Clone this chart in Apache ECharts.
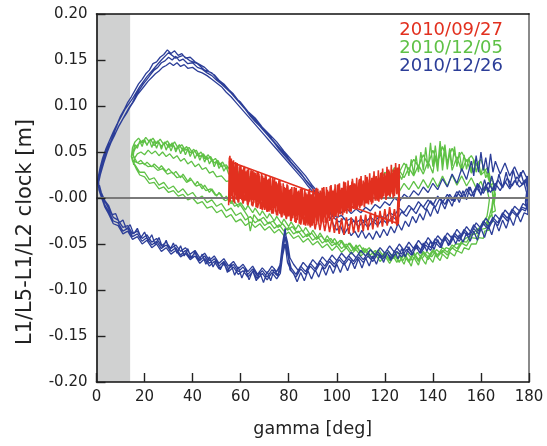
<!DOCTYPE html>
<html>
<head>
<meta charset="utf-8">
<script src="https://cdn.jsdelivr.net/npm/echarts@6/dist/echarts.min.js"></script>
<style>html,body{margin:0;padding:0;background:#fff}#c{width:547px;height:446px}</style>
</head>
<body>
<div id="c"></div>
<script>
// ---- axis / tick definitions ----
const xTickLabels = ['0','20','40','60','80','100','120','140','160','180'];
const yTickLabels = ['-0.20','-0.15','-0.10','-0.05','-0.00','0.05','0.10','0.15','0.20'];
const shadeRange = [0, 14];
const zeroLevel = 0;
const seriesNames = ['2010/09/27', '2010/12/05', '2010/12/26'];

// ---- 2010/12/26 (blue) passes ----
const blue1 = [[1.0,0.018],[2,0.030],[3,0.040],[4.5,0.050],[6,0.060],[7.5,0.068],[9,0.077],[10.5,0.084],[12,0.091],[13.5,0.098],[15,0.104],[16.5,0.112],[18,0.118],[19.5,0.124],[21,0.129],[22.5,0.134],[24,0.139],[25.5,0.142],[27,0.147],[28.5,0.149],[30,0.153],[31.5,0.150],[33,0.154],[34.5,0.149],[36,0.151],[38,0.146],[40,0.147],[42,0.142],[44,0.140],[46,0.136],[48,0.133],[50,0.128],[52,0.124],[54,0.119],[56,0.114],[58,0.108],[60,0.102],[62,0.096],[64,0.089],[66,0.083],[68,0.078],[70,0.072],[72,0.066],[74,0.060],[76,0.053],[78,0.047],[80,0.041],[82,0.035],[84,0.029],[86,0.023],[88,0.016],[90,0.010],[92,0.003],[94,-0.004],
[96,-0.012],[98,-0.017],[100,-0.021],[102,-0.019],[104,-0.025],[106,-0.022],[108,-0.027],[110,-0.023],[112,-0.026],[114,-0.021],[116,-0.025],[118,-0.019],[120,-0.022],[122,-0.016],[124,-0.019],[126,-0.011],[128,-0.016],[130,-0.008],[132,-0.013],[134,-0.004],[136,-0.010],[138,-0.002],[140,-0.008],[142,0.002],[144,-0.005],[146,0.004],[148,-0.003],[150,0.007],[152,0.000],[154,0.010],[156,0.002],[158,0.012],[160,0.004],[162,0.014],[164,0.006],[166,0.016],[168,0.008],[170,0.018],[172,0.010],[174,0.019],[176,0.012],[178,0.016],[179,0.006],
[178.5,-0.004],[179,-0.012],
[177,-0.010],[175,-0.018],[173,-0.012],[171,-0.022],[169,-0.016],[167,-0.027],[165,-0.021],[163,-0.031],[161,-0.025],[159,-0.036],[157,-0.029],[155,-0.040],[153,-0.034],[151,-0.044],[149,-0.038],[147,-0.048],[145,-0.041],[143,-0.051],[141,-0.044],[139,-0.054],[137,-0.047],[135,-0.057],[133,-0.050],[131,-0.059],[129,-0.052],[127,-0.061],[125,-0.054],[123,-0.063],[121,-0.056],[119,-0.064],[117,-0.058],[115,-0.066],[113,-0.060],[111,-0.067],[109,-0.061],[107,-0.069],[105,-0.063],[103,-0.070],[101,-0.064],[99,-0.072],[97,-0.066],[95,-0.074],[93,-0.068],[91,-0.077],[89,-0.071],[87,-0.080],[85,-0.074],[83,-0.083],[81,-0.076],[79.5,-0.060],[78.5,-0.042],[77.5,-0.058],[76.5,-0.079],[75,-0.084],[73,-0.078],[71,-0.086],[69,-0.079],[67,-0.085],[65,-0.077],[63,-0.083],[61,-0.075],[59,-0.080],[57,-0.072],[55,-0.077],[53,-0.069],[51,-0.074],[49,-0.066],[47,-0.071],[45,-0.063],[43,-0.068],[41,-0.060],[39,-0.065],[37,-0.057],[35,-0.062],[33,-0.054],[31,-0.058],[29,-0.051],[27,-0.055],[25,-0.047],[23,-0.051],[21,-0.043],[19,-0.047],[17,-0.039],[15,-0.042],[13,-0.033],[11,-0.036],[9,-0.027],[7,-0.025],[5,-0.014],[3.5,-0.008],[2,0.003],[1,0.010],[0.5,0.016]];

const blue2 = [[0.5,0.020],[1.5,0.033],[2.5,0.043],[4,0.054],[5.5,0.063],[7,0.072],[8.5,0.080],[10,0.089],[11.5,0.096],[13,0.104],[14.5,0.110],[16,0.117],[17.5,0.124],[19,0.129],[20.5,0.135],[22,0.139],[23.5,0.146],[25,0.148],[26.5,0.153],[28,0.156],[29.5,0.161],[31,0.157],[32.5,0.160],[34,0.155],[35.5,0.157],[37,0.152],[39,0.153],[41,0.148],[43,0.145],[45,0.142],[47,0.137],[49,0.134],[51,0.128],[53,0.124],[55,0.118],[57,0.113],[59,0.106],[61,0.100],[63,0.094],[65,0.088],[67,0.082],[69,0.076],[71,0.071],[73,0.064],[75,0.058],[77,0.052],[79,0.046],[81,0.039],[83,0.033],[85,0.027],[87,0.020],[89,0.014],[91,0.007],[93,0.001],[95,-0.007],
[97,-0.016],[99,-0.022],[101,-0.026],[103,-0.022],[105,-0.030],[107,-0.025],[109,-0.031],[111,-0.026],[113,-0.032],[115,-0.025],[117,-0.030],[119,-0.023],[121,-0.028],[123,-0.020],[125,-0.024],[127,-0.015],[129,-0.020],[131,-0.011],[133,-0.017],[135,-0.007],[137,-0.013],[139,-0.003],[141,-0.010],[143,0.000],[145,-0.007],[147,0.004],[149,-0.004],[151,0.008],[153,-0.001],[155,0.012],[157,0.003],[159,0.015],[161,0.005],[163,0.017],[165,0.008],[167,0.020],[169,0.011],[171,0.022],[173,0.013],[175,0.023],[177,0.015],[178.5,0.020],[179.5,0.008],[179,-0.002],[179.5,-0.010],
[177.5,-0.006],[176,-0.014],[174,-0.009],[172,-0.019],[170,-0.013],[168,-0.024],[166,-0.018],[164,-0.029],[162,-0.022],[160,-0.033],[158,-0.027],[156,-0.038],[154,-0.031],[152,-0.041],[150,-0.034],[148,-0.044],[146,-0.038],[144,-0.047],[142,-0.041],[140,-0.050],[138,-0.043],[136,-0.053],[134,-0.046],[132,-0.055],[130,-0.048],[128,-0.057],[126,-0.050],[124,-0.059],[122,-0.052],[120,-0.060],[118,-0.054],[116,-0.062],[114,-0.056],[112,-0.063],[110,-0.057],[108,-0.065],[106,-0.059],[104,-0.066],[102,-0.060],[100,-0.068],[98,-0.062],[96,-0.070],[94,-0.064],[92,-0.073],[90,-0.067],[88,-0.076],[86,-0.070],[84,-0.079],[82,-0.072],[80.5,-0.065],[79.5,-0.048],[78.5,-0.037],[77.5,-0.052],[76.5,-0.072],[75,-0.080],[73,-0.074],[71,-0.082],[69,-0.076],[67,-0.083],[65,-0.074],[63,-0.080],[61,-0.072],[59,-0.077],[57,-0.069],[55,-0.074],[53,-0.066],[51,-0.071],[49,-0.063],[47,-0.068],[45,-0.060],[43,-0.065],[41,-0.057],[39,-0.061],[37,-0.054],[35,-0.058],[33,-0.051],[31,-0.055],[29,-0.048],[27,-0.052],[25,-0.044],[23,-0.048],[21,-0.040],[19,-0.044],[17,-0.036],[15,-0.039],[13,-0.030],[11,-0.032],[9,-0.024],[7,-0.021],[5,-0.011],[3.5,-0.004],[2,0.006],[1,0.013]];

const blue3 = [[0.8,0.022],[2,0.035],[3.5,0.047],[5,0.057],[6.5,0.064],[8,0.071],[9.5,0.079],[11,0.086],[12.5,0.092],[14,0.099],[15.5,0.105],[17,0.112],[18.5,0.117],[20,0.122],[21.5,0.127],[23,0.131],[24.5,0.135],[26,0.138],[27.5,0.142],[29,0.144],[30.5,0.147],[32,0.144],[33.5,0.147],[35,0.143],[36.5,0.145],[38,0.141],[40,0.142],[42,0.138],[44,0.136],[46,0.133],[48,0.129],[50,0.125],[52,0.121],[54,0.115],[56,0.110],[58,0.104],[60,0.098],[62,0.092],[64,0.086],[66,0.080],[68,0.074],[70,0.068],[72,0.062],[74,0.056],[76,0.050],[78,0.044],[80,0.038],[82,0.032],[84,0.026],[86,0.020],[88,0.013],[90,0.007],[92,0.001],[94,-0.005],
[96,-0.009],[98,-0.013],[100,-0.010],[102,-0.016],[104,-0.011],[106,-0.017],[108,-0.012],[110,-0.016],[112,-0.010],[114,-0.014],[116,-0.007],[118,-0.011],[120,-0.004],[122,-0.008],[124,0.000],[126,-0.004],[128,0.004],[130,0.000],[132,0.008],[134,0.003],[136,0.012],[138,0.006],[140,0.016],[142,0.009],[144,0.021],[146,0.012],[148,0.026],[150,0.016],[152,0.032],[154,0.020],[156,0.040],[157,0.024],[158,0.046],[159,0.028],[160,0.050],[161,0.030],[162,0.044],[163,0.027],[164,0.048],[165,0.028],[166,0.040],[168,0.026],[170,0.038],[172,0.024],[174,0.034],[176,0.022],[177.5,0.030],[179,0.022],[179.5,0.010],[179,0.000],[179.5,-0.008],[178.5,-0.014],
[177,-0.012],[175,-0.020],[173,-0.015],[171,-0.025],[169,-0.019],[167,-0.030],[165,-0.024],[163,-0.034],[161,-0.028],[159,-0.039],[157,-0.033],[155,-0.043],[153,-0.037],[151,-0.047],[149,-0.041],[147,-0.051],[145,-0.045],[143,-0.054],[141,-0.048],[139,-0.057],[137,-0.051],[135,-0.060],[133,-0.054],[131,-0.062],[129,-0.056],[127,-0.064],[125,-0.058],[123,-0.066],[121,-0.060],[119,-0.067],[117,-0.061],[115,-0.069],[113,-0.063],[111,-0.070],[109,-0.064],[107,-0.072],[105,-0.066],[103,-0.073],[101,-0.067],[99,-0.075],[97,-0.069],[95,-0.077],[93,-0.071],[91,-0.080],[89,-0.074],[87,-0.083],[85,-0.077],[83,-0.086],[81,-0.079],[79.5,-0.070],[78.5,-0.050],[77.5,-0.062],[76.5,-0.082],[75,-0.088],[73,-0.081],[71,-0.089],[69,-0.082],[67,-0.088],[65,-0.080],[63,-0.086],[61,-0.079],[59,-0.083],[57,-0.075],[55,-0.080],[53,-0.072],[51,-0.077],[49,-0.069],[47,-0.074],[45,-0.066],[43,-0.071],[41,-0.063],[39,-0.067],[37,-0.060],[35,-0.064],[33,-0.057],[31,-0.061],[29,-0.054],[27,-0.058],[25,-0.050],[23,-0.054],[21,-0.046],[19,-0.050],[17,-0.042],[15,-0.045],[13,-0.036],[11,-0.039],[9,-0.030],[7,-0.028],[5,-0.017],[3.5,-0.010],[2,0.001],[1,0.009],[0.8,0.018]];

const blue4 = [[1.2,0.016],[3,0.038],[6,0.062],[9,0.082],[12,0.097],[15,0.108],[18,0.121],[21,0.132],[24,0.141],[27,0.150],[30,0.158],[33,0.152],[36,0.155],[39,0.149],[42,0.146],[45,0.139],[48,0.136],[51,0.127],[54,0.121],[57,0.111],[60,0.104],[63,0.094],[66,0.087],[69,0.077],[72,0.069],[75,0.061],[78,0.051],[81,0.042],[84,0.033],[87,0.024],[90,0.013],[93,0.004],[95,-0.006],
[97,-0.020],[98.5,-0.028],[100,-0.035],[101.5,-0.030],[103,-0.040],[104.5,-0.033],[106,-0.041],[107.5,-0.036],[109,-0.043],[110.5,-0.035],[112,-0.044],[113.5,-0.038],[115,-0.045],[116.5,-0.036],[118,-0.043],[119.5,-0.034],[121,-0.041],[122.5,-0.031],[124,-0.038],[125.5,-0.028],[127,-0.035],[128.5,-0.025],[130,-0.031],[131.5,-0.020],[133,-0.027],[134.5,-0.017],[136,-0.024],[137.5,-0.012],[139,-0.020],[140.5,-0.009],[142,-0.017],[143.5,-0.004],[145,-0.012],[146.5,-0.001],[148,-0.009],[149.5,0.004],[151,-0.005],[152.5,0.008],[154,-0.002],[155.5,0.012],[157,0.001],[158.5,0.016],[160,0.003],[161.5,0.020],[163,0.006],[164.5,0.024],[166,0.008],[167.5,0.026],[169,0.011],[170.5,0.028],[172,0.012],[173.5,0.030],[175,0.014],[176.5,0.028],[178,0.015],[179.3,0.024],[179.6,0.004],[179.2,-0.006],[179.6,-0.018],
[178,-0.016],[176.5,-0.026],[175,-0.017],[173.5,-0.030],[172,-0.021],[170.5,-0.033],[169,-0.024],[167.5,-0.036],[166,-0.026],[164.5,-0.040],[163,-0.030],[161.5,-0.043],[160,-0.033],[158.5,-0.046],[157,-0.036],[155.5,-0.047],[154,-0.038],[152.5,-0.048],[151,-0.040],[149.5,-0.050],[148,-0.041],[146.5,-0.052],[145,-0.043],[143.5,-0.054],[142,-0.045],[140.5,-0.056],[139,-0.047],[137.5,-0.058],[136,-0.049],[134.5,-0.060],[133,-0.051],[131.5,-0.062],[130,-0.053],[128.5,-0.064],[127,-0.055],[125.5,-0.066],[124,-0.057],[122.5,-0.068],[121,-0.059],[119.5,-0.070],[118,-0.061],[116.5,-0.072],[115,-0.063],[113.5,-0.074],[112,-0.065],[110.5,-0.076],[109,-0.066],[107.5,-0.077],[106,-0.068],[104.5,-0.079],[103,-0.070],[101.5,-0.081],[100,-0.072],[98.5,-0.082],[97,-0.073],[95.5,-0.084],[94,-0.075],[92.5,-0.086],[91,-0.078],[89.5,-0.088],[88,-0.079],[86.5,-0.090],[85,-0.081],[83.5,-0.091],[82,-0.082],[80.5,-0.078],[79.5,-0.056],[78.5,-0.033],[77.5,-0.048],[76.5,-0.070],[75.5,-0.085],[74,-0.077],[72.5,-0.090],[71,-0.080],[69.5,-0.092],[68,-0.081],[66.5,-0.090],[65,-0.079],[63.5,-0.089],[62,-0.077],[60.5,-0.087],[59,-0.075],[57.5,-0.084],[56,-0.072],[54.5,-0.081],[53,-0.070],[51.5,-0.078],[50,-0.067],[48.5,-0.075],[47,-0.064],[45.5,-0.072],[44,-0.061],[42.5,-0.069],[41,-0.058],[39.5,-0.066],[38,-0.055],[36.5,-0.063],[35,-0.052],[33.5,-0.060],[32,-0.049],[30.5,-0.057],[29,-0.046],[27.5,-0.054],[26,-0.043],[24.5,-0.051],[23,-0.040],[21.5,-0.047],[20,-0.037],[18.5,-0.043],[17,-0.033],[15.5,-0.039],[14,-0.029],[12.5,-0.034],[11,-0.024],[9.5,-0.027],[8,-0.017],[6.5,-0.018],[5,-0.008],[3.5,-0.003],[2,0.006],[1.2,0.014]];

// ---- 2010/12/05 (green) passes ----
const green1 = [[15,0.040],[15.5,0.050],[16.5,0.056],[18,0.060],[19.5,0.063],[21,0.058],[22.5,0.064],[24,0.057],[25.5,0.062],[27,0.056],[28.5,0.061],[30,0.055],[31.5,0.060],[33,0.053],[34.5,0.058],[36,0.051],[37.5,0.056],[39,0.049],[40.5,0.053],[42,0.046],[43.5,0.050],[45,0.043],[46.5,0.047],[48,0.040],[49.5,0.043],[51,0.036],[52.5,0.039],[54,0.032],[56,0.034],[58,0.027],[60,0.029],[62,0.022],[64,0.023],[66,0.016],[68,0.017],[70,0.010],[72,0.011],[74,0.004],[76,0.005],[78,-0.002],[80,-0.001],[82,-0.007],[84,-0.006],[86,-0.011],[88,-0.009],[90,-0.014],[92,-0.010],[94,-0.013],[96,-0.007],[98,-0.009],[100,-0.002],[102,-0.004],[104,0.004],[106,0.002],[108,0.010],[110,0.008],[112,0.016],[114,0.013],[116,0.022],[118,0.018],[120,0.028],[122,0.024],[124,0.033],[126,0.028],[128,0.038],[130,0.031],[132,0.042],[134,0.034],[136,0.047],[138,0.036],[140,0.052],[142,0.038],[144,0.056],[146,0.040],[148,0.054],[150,0.041],[152,0.050],[154,0.040],[156,0.046],[158,0.037],[160,0.042],[161.5,0.030],[163,0.033],[164,0.020],[165,0.018],[165.5,0.005],[165,-0.005],[164.5,-0.018],[163.5,-0.022],[162,-0.033],[160,-0.034],[158,-0.044],[156,-0.043],[154,-0.052],[152,-0.049],[150,-0.058],[148,-0.054],[146,-0.062],[144,-0.057],[142,-0.064],[140,-0.058],[138,-0.067],[136,-0.060],[134,-0.069],[132,-0.061],[130,-0.070],[128,-0.062],[126,-0.069],[124,-0.061],[122,-0.067],[120,-0.059],[118,-0.065],[116,-0.057],[114,-0.062],[112,-0.055],[110,-0.060],[108,-0.052],[106,-0.058],[104,-0.050],[102,-0.055],[100,-0.048],[98,-0.052],[96,-0.045],[94,-0.049],[92,-0.042],[90,-0.046],[88,-0.039],[86,-0.043],[84,-0.036],[82,-0.039],[80,-0.032],[78,-0.036],[76,-0.029],[74,-0.033],[72,-0.026],[70,-0.030],[68,-0.023],[66,-0.027],[64,-0.020],[62,-0.024],[60,-0.016],[58,-0.019],[56,-0.011],[54,-0.014],[52,-0.006],[50,-0.009],[48,-0.002],[46,-0.005],[44,0.002],[42,-0.001],[40,0.006],[38,0.003],[36,0.010],[34,0.006],[32,0.013],[30,0.010],[28,0.017],[26,0.014],[24,0.022],[22,0.020],[20,0.028],[18,0.028],[16.5,0.034],[15.5,0.038],[15,0.042]];

const green2 = [[15.5,0.036],[16,0.044],[17,0.048],[18.5,0.050],[20,0.047],[21.5,0.052],[23,0.048],[24.5,0.051],[26,0.046],[27.5,0.050],[29,0.045],[30.5,0.048],[32,0.043],[33.5,0.046],[35,0.040],[36.5,0.043],[38,0.037],[39.5,0.040],[41,0.034],[42.5,0.037],[44,0.031],[45.5,0.033],[47,0.027],[48.5,0.029],[50,0.023],[52,0.024],[54,0.018],[56,0.019],[58,0.013],[60,0.014],[62,0.008],[64,0.009],[66,0.003],[68,0.003],[70,-0.002],[72,-0.002],[74,-0.007],[76,-0.006],[78,-0.011],[80,-0.010],[82,-0.015],[84,-0.012],[86,-0.017],[88,-0.013],[90,-0.016],[92,-0.011],[94,-0.014],[96,-0.008],[98,-0.011],[100,-0.004],[102,-0.007],[104,0.000],[106,-0.003],[108,0.004],[110,0.000],[112,0.006],[114,0.002],[116,0.009],[118,0.004],[120,0.011],[122,0.006],[124,0.014],[126,0.007],[128,0.016],[130,0.009],[132,0.018],[134,0.010],[136,0.020],[138,0.011],[140,0.022],[142,0.012],[144,0.024],[146,0.013],[148,0.025],[150,0.014],[152,0.024],[154,0.013],[156,0.022],[158,0.011],[160,0.018],[161.5,0.008],[162.5,0.010],[163.5,-0.002],[163,-0.012],[162.5,-0.020],[161,-0.026],[159.5,-0.032],[157.5,-0.036],[155.5,-0.042],[153.5,-0.044],[151.5,-0.050],[149.5,-0.050],[147.5,-0.056],[145.5,-0.054],[143.5,-0.061],[141.5,-0.056],[139.5,-0.064],[137.5,-0.058],[135.5,-0.066],[133.5,-0.059],[131.5,-0.068],[129.5,-0.060],[127.5,-0.068],[125.5,-0.059],[123.5,-0.066],[121.5,-0.058],[119.5,-0.064],[117.5,-0.056],[115.5,-0.061],[113.5,-0.054],[111.5,-0.059],[109.5,-0.051],[107.5,-0.056],[105.5,-0.049],[103.5,-0.054],[101.5,-0.046],[99.5,-0.051],[97.5,-0.044],[95.5,-0.048],[93.5,-0.041],[91.5,-0.045],[89.5,-0.038],[87.5,-0.042],[85.5,-0.035],[83.5,-0.038],[81.5,-0.031],[79.5,-0.035],[77.5,-0.028],[75.5,-0.032],[73.5,-0.025],[71.5,-0.028],[69.5,-0.021],[67.5,-0.025],[65.5,-0.018],[64,-0.036],[63,-0.020],[61.5,-0.014],[59.5,-0.006],[57.5,-0.009],[55.5,-0.001],[53.5,-0.003],[51.5,0.005],[49.5,0.003],[47.5,0.010],[45.5,0.008],[43.5,0.015],[41.5,0.013],[39.5,0.020],[37.5,0.017],[35.5,0.024],[33.5,0.022],[31.5,0.028],[29.5,0.026],[27.5,0.032],[25.5,0.030],[23.5,0.035],[21.5,0.034],[19.5,0.038],[18,0.037],[16.5,0.039],[15.5,0.040]];

const green3 = [[14.5,0.045],[15,0.055],[16,0.061],[17.5,0.065],[19,0.060],[20.5,0.066],[22,0.061],[23.5,0.065],[25,0.059],[26.5,0.064],[28,0.058],[29.5,0.062],[31,0.056],[32.5,0.061],[34,0.054],[35.5,0.058],[37,0.052],[38.5,0.055],[40,0.049],[41.5,0.052],[43,0.045],[44.5,0.048],[46,0.042],[47.5,0.045],[49,0.038],[50.5,0.041],[52,0.034],[54,0.036],[56,0.029],[58,0.030],[60,0.024],[62,0.025],[64,0.019],[66,0.019],[68,0.013],[70,0.014],[72,0.008],[74,0.008],[76,0.002],[78,0.003],[80,-0.003],[82,-0.003],[84,-0.008],[86,-0.007],[88,-0.011],[90,-0.008],[92,-0.011],[94,-0.005],[96,-0.008],[98,0.000],[100,-0.003],[102,0.005],[104,0.002],[106,0.010],[108,0.006],[110,0.014],[112,0.010],[114,0.018],[116,0.013],[118,0.022],[120,0.016],[122,0.026],[124,0.019],[126,0.030],[128,0.022],[130,0.033],[132,0.024],[134,0.036],[136,0.026],[138,0.040],[140,0.027],[141,0.045],[142,0.029],[143,0.058],[144,0.030],[145,0.052],[146,0.031],[147,0.050],[148,0.030],[150,0.045],[152,0.029],[154,0.042],[156,0.027],[158,0.037],[160,0.025],[162,0.030],[163.5,0.018],[164.5,0.012],[165,0.000],[164.5,-0.010],[163.5,-0.020],[162,-0.028],[160,-0.030],[158,-0.039],[156,-0.040],[154,-0.048],[152,-0.047],[150,-0.055],[148,-0.051],[146,-0.059],[144,-0.054],[142,-0.062],[140,-0.056],[138,-0.064],[136,-0.058],[134,-0.067],[132,-0.059],[130,-0.068],[128,-0.060],[126,-0.070],[124,-0.062],[122,-0.071],[120,-0.063],[118,-0.069],[116,-0.061],[114,-0.066],[112,-0.058],[110,-0.063],[108,-0.056],[106,-0.061],[104,-0.054],[102,-0.059],[100,-0.052],[98,-0.057],[96,-0.050],[94,-0.054],[92,-0.047],[90,-0.051],[88,-0.044],[86,-0.048],[84,-0.041],[82,-0.044],[80,-0.037],[78,-0.041],[76,-0.034],[74,-0.038],[72,-0.031],[70,-0.035],[68,-0.028],[66,-0.032],[64,-0.026],[62,-0.030],[60,-0.023],[58,-0.026],[56,-0.018],[54,-0.021],[52,-0.013],[50,-0.016],[48,-0.009],[46,-0.011],[44,-0.004],[42,-0.006],[40,0.000],[38,-0.002],[36,0.004],[34,0.002],[32,0.008],[30,0.006],[28,0.012],[26,0.010],[24,0.017],[22,0.016],[20,0.023],[18,0.025],[16.5,0.032],[15,0.040],[14.5,0.045]];

const green4 = [[15,0.048],[16,0.058],[17,0.054],[18,0.062],[19,0.056],[20,0.064],[21,0.057],[22,0.063],[23,0.055],[24,0.062],[25,0.054],[26,0.061],[27,0.053],[28,0.060],[29,0.052],[30,0.059],[31,0.051],[32,0.058],[33,0.050],[34,0.056],[35,0.048],[36,0.055],[37,0.047],[38,0.053],[39,0.045],[40,0.051],[41,0.043],[42,0.049],[43,0.041],[44,0.047],[45,0.039],[46,0.045],[47,0.037],[48,0.042],[49,0.034],[50,0.040],[51,0.032],[52,0.037],[53,0.029],[54,0.034],[55,0.026],[57,0.028],[59,0.020],[61,0.022],[63,0.014],[65,0.015],[67,0.008],[69,0.009],[71,0.002],[73,0.003],[75,-0.004],[77,-0.003],[79,-0.009],[81,-0.008],[83,-0.014],[85,-0.012],[87,-0.018],[89,-0.014],[91,-0.019],[93,-0.013],[95,-0.016],[97,-0.009],[99,-0.012],[101,-0.004],[103,-0.007],[105,0.002],[107,-0.002],[109,0.008],[111,0.003],[113,0.014],[115,0.008],[117,0.020],[119,0.012],[121,0.026],[123,0.016],[125,0.032],[127,0.020],[129,0.037],[130,0.024],[131,0.042],[132,0.026],[133,0.046],[134,0.028],[135,0.050],[136,0.030],[137,0.055],[138,0.032],[139,0.060],[140,0.034],[141,0.057],[142,0.035],[143,0.062],[144,0.036],[145,0.058],[146,0.036],[147,0.054],[148,0.035],[149,0.056],[150,0.034],[151,0.050],[152,0.032],[153,0.047],[154,0.031],[155,0.044],[156,0.029],[157,0.042],[158,0.028],[159,0.039],[160,0.026],[161,0.035],[162,0.022],[163,0.028],[164,0.014],[165,0.016],[166,0.004],[165.5,-0.006],[166,-0.014],[164.5,-0.016],[165,-0.026],[163,-0.027],[163.5,-0.035],[161.5,-0.036],[161,-0.044],[159,-0.043],[158,-0.050],[156,-0.050],[155,-0.056],[153,-0.054],[152,-0.060],[150,-0.057],[149,-0.063],[147,-0.059],[146,-0.066],[144,-0.061],[143,-0.068],[141,-0.062],[140,-0.070],[138,-0.063],[137,-0.072],[135,-0.064],[134,-0.073],[132,-0.064],[131,-0.074],[129,-0.064],[128,-0.072],[126,-0.063],[125,-0.070],[123,-0.061],[122,-0.068],[120,-0.060],[119,-0.066],[117,-0.058],[116,-0.064],[114,-0.056],[113,-0.062],[111,-0.054],[110,-0.059],[108,-0.051],[107,-0.057],[105,-0.049],[104,-0.054],[102,-0.046],[101,-0.052],[99,-0.044],[98,-0.049],[96,-0.041],[95,-0.046],[93,-0.038],[92,-0.043],[90,-0.035],[89,-0.040],[87,-0.032],[86,-0.037],[84,-0.029],[83,-0.034],[81,-0.026],[80,-0.031],[78,-0.023],[77,-0.028],[75,-0.020],[74,-0.025],[72,-0.017],[71,-0.022],[69,-0.014],[68,-0.019],[66,-0.011],[65,-0.016],[63,-0.008],[62,-0.013],[60,-0.005],[59,-0.010],[57,-0.002],[56,-0.006],[54,0.002],[53,-0.002],[51,0.006],[50,0.002],[48,0.010],[47,0.006],[45,0.014],[44,0.010],[42,0.018],[41,0.014],[39,0.022],[38,0.018],[36,0.026],[35,0.022],[33,0.029],[32,0.026],[30,0.032],[29,0.029],[27,0.035],[26,0.032],[24,0.037],[23,0.034],[21,0.039],[20,0.036],[18.5,0.041],[17,0.038],[16,0.043],[15,0.048]];

// ---- 2010/09/27 (red) passes ----
const red1 = [[55,-0.008],[55.3,0.044],[56,0.002],[56.7,0.040],[57.5,0.000],[58.2,0.036],[59,0.003],[59.8,0.033],[60.5,-0.002],[61.3,0.035],[62,0.001],[62.8,0.031],[63.5,-0.004],[64.3,0.030],[65,-0.002],[65.8,0.028],[66.5,-0.007],[67.3,0.029],[68,-0.005],[68.8,0.025],[69.5,-0.010],[70.3,0.026],[71,-0.008],[71.8,0.021],[72.5,-0.013],[73.3,0.022],[74,-0.011],[74.8,0.018],[75.5,-0.016],[76.3,0.019],[77,-0.014],[77.8,0.014],[78.5,-0.019],[79.3,0.015],[80,-0.017],[80.8,0.010],[81.5,-0.022],[82.3,0.012],[83,-0.020],[83.8,0.007],[84.5,-0.024],[85.3,0.010],[86,-0.022],[86.8,0.005],[87.5,-0.025],[88.3,0.009],[89,-0.023],[89.8,0.004],[90.5,-0.025],[91.3,0.010],[92,-0.022],[92.8,0.005],[93.5,-0.024],[94.3,0.011],[95,-0.021],[95.8,0.006],[96.5,-0.022],[97.3,0.013],[98,-0.019],[98.8,0.008],[99.5,-0.020],[100.3,0.014],[101,-0.017],[101.8,0.009],[102.5,-0.018],[103.3,0.016],[104,-0.014],[104.8,0.011],[105.5,-0.015],[106.3,0.018],[107,-0.012],[107.8,0.013],[108.5,-0.012],[109.3,0.020],[110,-0.009],[110.8,0.015],[111.5,-0.010],[112.3,0.022],[113,-0.006],[113.8,0.017],[114.5,-0.007],[115.3,0.024],[116,-0.003],[116.8,0.019],[117.5,-0.004],[118.3,0.027],[119,0.000],[119.8,0.022],[120.5,-0.002],[121.3,0.030],[122,0.002],[122.8,0.025],[123.5,0.000],[124.3,0.033],[125,0.004],[125.7,0.028],[126,-0.010],
[125.5,0.000],[125,-0.030],[124,-0.012],[123,-0.028],[122,-0.010],[121,-0.030],[120,-0.012],[119,-0.031],[118,-0.014],[117,-0.032],[116,-0.015],[115,-0.034],[114,-0.016],[113,-0.035],[112,-0.018],[111,-0.036],[110,-0.019],[109,-0.037],[108,-0.020],[107,-0.038],[106,-0.021],[105,-0.039],[104,-0.021],[103,-0.040],[102,-0.022],[101,-0.039],[100,-0.022],[99,-0.038],[98,-0.022],[97,-0.037],[96,-0.021],[95,-0.036],[94,-0.020],[93,-0.035],[92,-0.019],[91,-0.034],[90,-0.018],[89,-0.032],[88,-0.017],[87,-0.030],[86,-0.015],[85,-0.029],[84,-0.013],[83,-0.027],[82,-0.011],[81,-0.025],[80,-0.009],[79,-0.023],[78,-0.008],[77,-0.021],[76,-0.006],[75,-0.019],[74,-0.004],[73,-0.017],[72,-0.003],[71,-0.015],[70,-0.001],[69,-0.013],[68,0.001],[67,-0.011],[66,0.003],[65,-0.009],[64,0.004],[63,-0.008],[62,0.006],[61,-0.006],[60,0.008],[59,-0.005],[58,0.010],[57,-0.004],[56,0.012],[55,-0.004]];

const red2 = [[55.5,0.046],[56.3,0.008],[57,0.041],[57.8,0.005],[58.6,0.038],[59.4,0.006],[60.1,0.034],[60.9,0.002],[61.6,0.033],[62.4,0.004],[63.1,0.031],[63.9,0.000],[64.6,0.029],[65.4,0.001],[66.1,0.027],[66.9,-0.004],[67.6,0.026],[68.4,-0.003],[69.1,0.024],[69.9,-0.008],[70.6,0.023],[71.4,-0.006],[72.1,0.020],[72.9,-0.011],[73.6,0.019],[74.4,-0.009],[75.1,0.016],[75.9,-0.014],[76.6,0.016],[77.4,-0.012],[78.1,0.012],[78.9,-0.017],[79.6,0.013],[80.4,-0.015],[81.1,0.009],[81.9,-0.019],[82.6,0.011],[83.4,-0.017],[84.1,0.008],[84.9,-0.021],[85.6,0.011],[86.4,-0.019],[87.1,0.006],[87.9,-0.022],[88.6,0.010],[89.4,-0.020],[90.1,0.007],[90.9,-0.021],[91.6,0.011],[92.4,-0.019],[93.1,0.008],[93.9,-0.020],[94.6,0.012],[95.4,-0.018],[96.1,0.009],[96.9,-0.018],[97.6,0.014],[98.4,-0.016],[99.1,0.010],[99.9,-0.016],[100.6,0.015],[101.4,-0.014],[102.1,0.011],[102.9,-0.014],[103.6,0.017],[104.4,-0.011],[105.1,0.013],[105.9,-0.011],[106.6,0.019],[107.4,-0.008],[108.1,0.015],[108.9,-0.008],[109.6,0.021],[110.4,-0.005],[111.1,0.017],[111.9,-0.006],[112.6,0.023],[113.4,-0.002],[114.1,0.019],[114.9,-0.003],[115.6,0.025],[116.4,0.001],[117.1,0.021],[117.9,0.000],[118.6,0.028],[119.4,0.004],[120.1,0.024],[120.9,0.002],[121.6,0.031],[122.4,0.006],[123.1,0.027],[123.9,0.004],[124.6,0.034],[125.4,0.008],[126,0.037],[126,-0.005],[125.6,-0.028]];

const red3 = [[55.2,0.040],[55.6,-0.004],[56.1,0.043],[56.5,-0.001],[57.0,0.037],[57.4,-0.006],[57.9,0.039],[58.3,-0.002],[58.8,0.034],[59.2,-0.005],[59.7,0.036],[60.1,-0.001],[60.6,0.031],[61.0,-0.006],[61.5,0.034],[61.9,-0.003],[62.4,0.029],[62.8,-0.007],[63.3,0.032],[63.7,-0.004],[64.2,0.027],[64.6,-0.008],[65.1,0.030],[65.5,-0.005],[66.0,0.026],[66.4,-0.010],[66.9,0.029],[67.3,-0.007],[67.8,0.024],[68.2,-0.012],[68.7,0.027],[69.1,-0.009],[69.6,0.022],[70.0,-0.013],[70.5,0.025],[70.9,-0.011],[71.4,0.020],[71.8,-0.015],[72.3,0.023],[72.7,-0.013],[73.2,0.018],[73.6,-0.017],[74.1,0.021],[74.5,-0.015],[75.0,0.016],[75.4,-0.019],[75.9,0.019],[76.3,-0.017],[76.8,0.013],[77.2,-0.021],[77.7,0.016],[78.1,-0.019],[78.6,0.011],[79.0,-0.023],[79.5,0.014],[79.9,-0.020],[80.4,0.009],[80.8,-0.025],[81.3,0.012],[81.7,-0.022],[82.2,0.007],[82.6,-0.026],[83.1,0.011],[83.5,-0.024],[84.0,0.006],[84.4,-0.028],[84.9,0.010],[85.3,-0.025],[85.8,0.005],[86.2,-0.029],[86.7,0.009],[87.1,-0.026],[87.6,0.004],[88.0,-0.030],[88.5,0.009],[88.9,-0.027],[89.4,0.004],[89.8,-0.030],[90.3,0.010],[90.7,-0.027],[91.2,0.004],[91.6,-0.029],[92.1,0.010],[92.5,-0.026],[93.0,0.005],[93.4,-0.028],[93.9,0.011],[94.3,-0.025],[94.8,0.006],[95.2,-0.027],[95.7,0.012],[96.1,-0.024],[96.6,0.007],[97.0,-0.025],[97.5,0.013],[97.9,-0.022],[98.4,0.008],[98.8,-0.023],[99.3,0.015],[99.7,-0.020],[100.2,0.010],[100.6,-0.021],[101.1,0.016],[101.5,-0.018],[102.0,0.011],[102.4,-0.019],[102.9,0.018],[103.3,-0.016],[103.8,0.013],[104.2,-0.017],[104.7,0.019],[105.1,-0.014],[105.6,0.014],[106.0,-0.015],[106.5,0.021],[106.9,-0.012],[107.4,0.016],[107.8,-0.013],[108.3,0.022],[108.7,-0.010],[109.2,0.017],[109.6,-0.011],[110.1,0.024],[110.5,-0.008],[111.0,0.019],[111.4,-0.009],[111.9,0.025],[112.3,-0.006],[112.8,0.020],[113.2,-0.007],[113.7,0.027],[114.1,-0.004],[114.6,0.022],[115.0,-0.005],[115.5,0.029],[115.9,-0.002],[116.4,0.024],[116.8,-0.003],[117.3,0.030],[117.7,0.000],[118.2,0.025],[118.6,-0.002],[119.1,0.032],[119.5,0.002],[120.0,0.027],[120.4,0.000],[120.9,0.034],[121.3,0.003],[121.8,0.029],[122.2,0.001],[122.7,0.036],[123.1,0.004],[123.6,0.031],[124.0,0.002],[124.5,0.038],[124.9,0.005],[125.4,0.033],[125.8,0.000]];

// ---- style ----
const COLORS = { red: '#e2301f', green: '#5fc146', blue: '#2c3e98' };
const FONT = 'DejaVu Sans';

const chart = echarts.init(document.getElementById('c'), null, { renderer: 'canvas' });

function lineSeries(name, data, color, z, width) {
  return {
    name: name, type: 'line', data: data, xAxisIndex: 0, yAxisIndex: 0,
    showSymbol: false, symbol: 'none', z: z, silent: true,
    lineStyle: { color: color, width: width }, itemStyle: { color: color },
    animation: false
  };
}

const tickStyle = { show: true, inside: true, length: 9, lineStyle: { color: '#222', width: 1.4 } };

const option = {
  animation: false,
  backgroundColor: '#ffffff',
  grid: { left: 96.5, right: 18, top: 14, bottom: 64, containLabel: false },
  xAxis: [{
    type: 'value', min: 0, max: 180, interval: 20, position: 'bottom', z: 8,
    axisLine: { show: true, onZero: false, lineStyle: { color: '#111', width: 1.6 } },
    axisTick: tickStyle,
    axisLabel: { fontSize: 15, color: '#222', fontFamily: FONT, margin: 8,
      formatter: v => xTickLabels[Math.round(v / 20)] },
    splitLine: { show: false },
    name: 'gamma [deg]', nameLocation: 'middle', nameGap: 38,
    nameTextStyle: { fontSize: 17.5, color: '#222', fontFamily: FONT }
  }, {
    type: 'value', min: 0, max: 180, position: 'top', z: 8,
    axisLine: { show: true, onZero: false, lineStyle: { color: '#111', width: 1.6 } },
    axisTick: { show: false }, axisLabel: { show: false }, splitLine: { show: false }
  }],
  yAxis: [{
    type: 'value', min: -0.2, max: 0.2, interval: 0.05, position: 'left', z: 8,
    axisLine: { show: true, onZero: false, lineStyle: { color: '#111', width: 1.6 } },
    axisTick: tickStyle,
    axisLabel: { fontSize: 15, color: '#222', fontFamily: FONT, margin: 9,
      formatter: v => yTickLabels[Math.round((v + 0.2) / 0.05)] },
    splitLine: { show: false }
  }, {
    type: 'value', min: -0.2, max: 0.2, position: 'right', z: 8,
    axisLine: { show: true, onZero: false, lineStyle: { color: '#8a8a8a', width: 2 } },
    axisTick: { show: false }, axisLabel: { show: false }, splitLine: { show: false }
  }],
  series: [
    {
      type: 'line', data: [], xAxisIndex: 0, yAxisIndex: 0, z: 1, silent: true,
      markArea: { silent: true, itemStyle: { color: '#d0d1d1' },
        data: [[{ xAxis: shadeRange[0] }, { xAxis: shadeRange[1] }]] },
      markLine: { silent: true, symbol: 'none', label: { show: false },
        lineStyle: { color: '#7a7a7a', width: 2, type: 'solid' },
        data: [{ yAxis: zeroLevel }] }
    },
    lineSeries(seriesNames[1], green1.concat(green2, green3, green4), COLORS.green, 3, 1.3),
    lineSeries(seriesNames[2], blue1.concat(blue2, blue3, blue4), COLORS.blue, 4, 1.3),
    lineSeries(seriesNames[0], red1.concat(red2, red3), COLORS.red, 5, 1.6)
  ],
  graphic: [
    { type: 'text', x: 26, y: 232, rotation: Math.PI / 2, z: 10,
      style: { text: 'L1/L5-L1/L2 clock [m]', fontSize: 21, fontFamily: FONT, fill: '#222',
        textAlign: 'center', textVerticalAlign: 'middle' } },
    { type: 'text', x: 503, y: 30, z: 10,
      style: { text: seriesNames[0], fontSize: 18, fontFamily: FONT, fill: COLORS.red, textAlign: 'right', textVerticalAlign: 'middle' } },
    { type: 'text', x: 503, y: 48.5, z: 10,
      style: { text: seriesNames[1], fontSize: 18, fontFamily: FONT, fill: COLORS.green, textAlign: 'right', textVerticalAlign: 'middle' } },
    { type: 'text', x: 503, y: 66.5, z: 10,
      style: { text: seriesNames[2], fontSize: 18, fontFamily: FONT, fill: COLORS.blue, textAlign: 'right', textVerticalAlign: 'middle' } }
  ]
};
chart.setOption(option);
</script>
</body>
</html>
